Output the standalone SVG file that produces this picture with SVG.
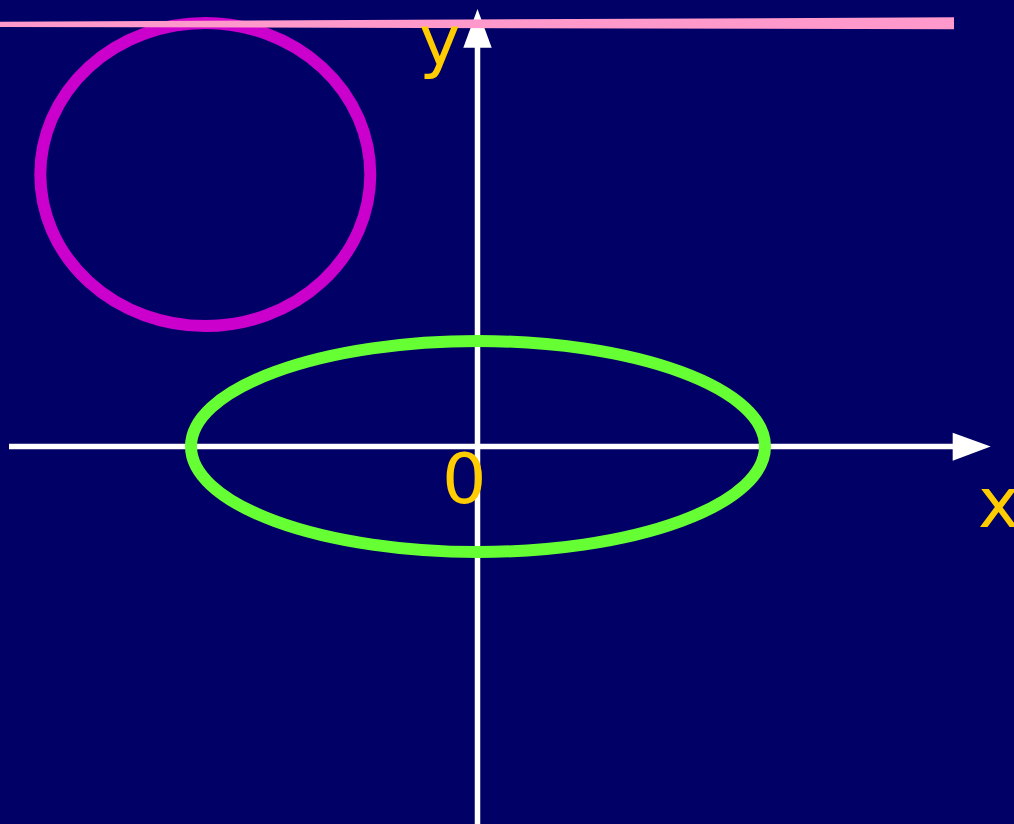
<svg xmlns="http://www.w3.org/2000/svg" width="1014" height="824" viewBox="0 0 1014 824">
<style>
.axis{stroke:#ffffff;stroke-width:5.5;fill:none}
.head{fill:#ffffff}
.lbl{font-family:"DejaVu Sans",sans-serif;font-size:70px;fill:#ffcc00}
</style>
<rect x="0" y="0" width="1014" height="824" fill="#000066"/>
<g id="connectors">
<line class="axis" x1="9" y1="446.5" x2="955" y2="446.5"/>
<polygon class="head" points="952.7,432.7 990.7,446.5 952.7,460.7"/>
<line class="axis" x1="477.5" y1="824" x2="477.5" y2="45"/>
<polygon class="head" points="463.3,47.7 477.5,9 491.7,47.7"/>
</g>
<g id="ellipse-green">
<ellipse cx="478" cy="446.5" rx="287" ry="105.5" fill="none" stroke="#66ff33" stroke-width="12"/>
</g>
<g id="circle-magenta">
<ellipse cx="205.3" cy="174.5" rx="165" ry="151.5" fill="none" stroke="#cc00cc" stroke-width="12"/>
</g>
<g id="line-pink">
<polygon points="0,21.7 954,17.3 954,29.3 0,27" fill="#ff99cc"/>
</g>
<g id="labels">
<text class="lbl" x="419" y="65">y</text>
<text class="lbl" x="442" y="503">0</text>
<text class="lbl" x="978" y="527">x</text>
</g>
</svg>
